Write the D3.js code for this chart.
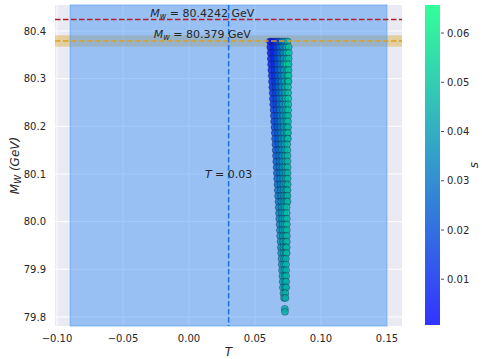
<!DOCTYPE html>
<html>
<head>
<meta charset="utf-8">
<script src="https://cdn.jsdelivr.net/npm/d3@7"></script>
<style>
  body { margin: 0; background: #fff; }
  svg { display: block; font-family: "DejaVu Sans", sans-serif; }
</style>
</head>
<body>
<div id="chart"></div>
<script>
const width = 482;
const height = 359;

// axis ticks
const xTicks = [-0.1, -0.05, 0.0, 0.05, 0.1, 0.15];
const yTicks = [79.8, 79.9, 80.0, 80.1, 80.2, 80.3, 80.4];
const sTicks = [0.01, 0.02, 0.03, 0.04, 0.05, 0.06];

// reference lines / regions
const mwLines = [80.4242, 80.379];
const mwBand = [80.367, 80.391];
const tLine = 0.03;
const tSpan = [-0.09, 0.15];

// scan points, one row per M_W value
const rowMw = [
  80.378, 80.366, 80.354, 80.342, 80.330, 80.318, 80.306, 80.294, 80.282, 80.270,
  80.258, 80.246, 80.234, 80.222, 80.210, 80.198, 80.186, 80.174, 80.162, 80.150,
  80.138, 80.126, 80.114, 80.102, 80.090, 80.078, 80.066, 80.054, 80.042, 80.030,
  80.018, 80.006, 79.994, 79.982, 79.970, 79.958, 79.946, 79.934, 79.922, 79.910,
  79.898, 79.886, 79.874, 79.862, 79.850, 79.840, 79.817, 79.811
];
const rowT = [
  [0.0614, 0.0636, 0.0658, 0.0680, 0.0702, 0.0724, 0.0746],
  [0.0616, 0.0640, 0.0664, 0.0688, 0.0712, 0.0736, 0.0755],
  [0.0618, 0.0642, 0.0666, 0.0690, 0.0714, 0.0738, 0.0756],
  [0.0620, 0.0644, 0.0668, 0.0692, 0.0716, 0.0740, 0.0755],
  [0.0622, 0.0646, 0.0670, 0.0694, 0.0718, 0.0742, 0.0755],
  [0.0624, 0.0648, 0.0672, 0.0696, 0.0720, 0.0744, 0.0754],
  [0.0627, 0.0650, 0.0674, 0.0698, 0.0722, 0.0746, 0.0754],
  [0.0629, 0.0652, 0.0676, 0.0700, 0.0724, 0.0747, 0.0754],
  [0.0631, 0.0655, 0.0679, 0.0703, 0.0727, 0.0750],
  [0.0634, 0.0657, 0.0681, 0.0705, 0.0729, 0.0751],
  [0.0636, 0.0660, 0.0684, 0.0708, 0.0731, 0.0752],
  [0.0638, 0.0662, 0.0686, 0.0710, 0.0733, 0.0752],
  [0.0641, 0.0664, 0.0688, 0.0712, 0.0735, 0.0751],
  [0.0643, 0.0667, 0.0691, 0.0714, 0.0737, 0.0751],
  [0.0645, 0.0669, 0.0693, 0.0716, 0.0738, 0.0750],
  [0.0648, 0.0671, 0.0695, 0.0718, 0.0740, 0.0750],
  [0.0650, 0.0674, 0.0697, 0.0720, 0.0741, 0.0750],
  [0.0652, 0.0676, 0.0699, 0.0722, 0.0743, 0.0749],
  [0.0655, 0.0678, 0.0701, 0.0724, 0.0744],
  [0.0657, 0.0680, 0.0703, 0.0726, 0.0745],
  [0.0659, 0.0682, 0.0705, 0.0727, 0.0746],
  [0.0661, 0.0684, 0.0707, 0.0729, 0.0746],
  [0.0664, 0.0686, 0.0709, 0.0730, 0.0747],
  [0.0666, 0.0689, 0.0711, 0.0732, 0.0747],
  [0.0668, 0.0691, 0.0713, 0.0733, 0.0747],
  [0.0671, 0.0693, 0.0715, 0.0735, 0.0747],
  [0.0673, 0.0695, 0.0717, 0.0736, 0.0746],
  [0.0675, 0.0697, 0.0719, 0.0737, 0.0746],
  [0.0678, 0.0699, 0.0720, 0.0738, 0.0746],
  [0.0680, 0.0701, 0.0722, 0.0739],
  [0.0682, 0.0703, 0.0724, 0.0740],
  [0.0684, 0.0705, 0.0725, 0.0741],
  [0.0687, 0.0707, 0.0727, 0.0741],
  [0.0689, 0.0709, 0.0728, 0.0741],
  [0.0691, 0.0711, 0.0729, 0.0741],
  [0.0694, 0.0713, 0.0731, 0.0741],
  [0.0696, 0.0715, 0.0732, 0.0740],
  [0.0698, 0.0717, 0.0733, 0.0740],
  [0.0701, 0.0719, 0.0734],
  [0.0703, 0.0720, 0.0735],
  [0.0705, 0.0722, 0.0736],
  [0.0708, 0.0724, 0.0736],
  [0.0710, 0.0726, 0.0736],
  [0.0712, 0.0727, 0.0736],
  [0.0716, 0.0730],
  [0.0720, 0.0731],
  [0.0726],
  [0.0727]
];
const rowS = [
  [0.0007, 0.005, 0.012, 0.020, 0.029, 0.038, 0.046],
  [0.003, 0.008, 0.016, 0.025, 0.034, 0.043, 0.050],
  [0.004, 0.010, 0.018, 0.027, 0.036, 0.045, 0.051],
  [0.005, 0.011, 0.020, 0.029, 0.038, 0.046, 0.050],
  [0.006, 0.012, 0.021, 0.030, 0.039, 0.0657, 0.049],
  [0.007, 0.013, 0.022, 0.031, 0.040, 0.047, 0.050],
  [0.008, 0.014, 0.023, 0.032, 0.041, 0.048, 0.052],
  [0.009, 0.015, 0.024, 0.033, 0.042, 0.048, 0.050],
  [0.010, 0.017, 0.026, 0.035, 0.043, 0.050],
  [0.011, 0.018, 0.027, 0.036, 0.044, 0.049],
  [0.012, 0.019, 0.028, 0.037, 0.045, 0.051],
  [0.013, 0.020, 0.029, 0.038, 0.045, 0.049],
  [0.014, 0.021, 0.030, 0.038, 0.046, 0.050],
  [0.015, 0.022, 0.031, 0.039, 0.046, 0.048],
  [0.016, 0.023, 0.032, 0.040, 0.046, 0.050],
  [0.017, 0.024, 0.032, 0.040, 0.047, 0.048],
  [0.018, 0.025, 0.033, 0.041, 0.047, 0.049],
  [0.019, 0.026, 0.034, 0.041, 0.047, 0.048],
  [0.020, 0.027, 0.035, 0.042, 0.047],
  [0.021, 0.028, 0.035, 0.042, 0.048],
  [0.022, 0.029, 0.036, 0.043, 0.048],
  [0.023, 0.030, 0.037, 0.043, 0.047],
  [0.024, 0.031, 0.037, 0.044, 0.048],
  [0.025, 0.032, 0.038, 0.044, 0.047],
  [0.026, 0.033, 0.039, 0.044, 0.048],
  [0.027, 0.033, 0.039, 0.045, 0.046],
  [0.028, 0.034, 0.040, 0.045, 0.047],
  [0.029, 0.035, 0.040, 0.045, 0.046],
  [0.030, 0.036, 0.041, 0.045, 0.047],
  [0.032, 0.038, 0.043, 0.049],
  [0.033, 0.038, 0.044, 0.049],
  [0.034, 0.039, 0.044, 0.048],
  [0.035, 0.040, 0.045, 0.049],
  [0.036, 0.040, 0.045, 0.048],
  [0.037, 0.041, 0.045, 0.048],
  [0.038, 0.042, 0.046, 0.048],
  [0.038, 0.042, 0.046, 0.047],
  [0.039, 0.043, 0.046, 0.048],
  [0.040, 0.043, 0.046],
  [0.040, 0.044, 0.047],
  [0.041, 0.044, 0.046],
  [0.042, 0.045, 0.047],
  [0.042, 0.045, 0.046],
  [0.043, 0.045, 0.046],
  [0.044, 0.046],
  [0.044, 0.045],
  [0.045],
  [0.046]
];

// flatten rows into points
const points = [];
rowMw.forEach((mw, i) => {
  rowT[i].forEach((t, j) => {
    points.push({ t: t, mw: mw, s: rowS[i][j] });
  });
});

const plot = { left: 55, right: 402, top: 5, bottom: 326 };
const cbar = { left: 425, right: 440, top: 5, bottom: 325 };

const svg = d3
  .select("#chart")
  .append("svg")
  .attr("width", width)
  .attr("height", height);

const x = d3.scaleLinear().domain([-0.10152, 0.16136]).range([plot.left, plot.right]);
const y = d3.scaleLinear().domain([79.7811, 80.4545]).range([plot.bottom, plot.top]);

const sExtent = d3.extent(points, (d) => d.s);
const cy = d3.scaleLinear().domain(sExtent).range([cbar.bottom, cbar.top]);
const winter = d3.interpolateRgb("#0000ff", "#00ff80");
const color = (s) => winter((s - sExtent[0]) / (sExtent[1] - sExtent[0]));

// background
svg
  .append("rect")
  .attr("x", plot.left)
  .attr("y", plot.top)
  .attr("width", plot.right - plot.left)
  .attr("height", plot.bottom - plot.top)
  .attr("fill", "#eaeaf2");

// grid
svg
  .append("g")
  .selectAll("line")
  .data(xTicks)
  .join("line")
  .attr("x1", (d) => x(d))
  .attr("x2", (d) => x(d))
  .attr("y1", plot.top)
  .attr("y2", plot.bottom)
  .attr("stroke", "#fff")
  .attr("stroke-width", 1);

svg
  .append("g")
  .selectAll("line")
  .data(yTicks)
  .join("line")
  .attr("x1", plot.left)
  .attr("x2", plot.right)
  .attr("y1", (d) => y(d))
  .attr("y2", (d) => y(d))
  .attr("stroke", "#fff")
  .attr("stroke-width", 1);

// M_W band
svg
  .append("rect")
  .attr("x", plot.left)
  .attr("width", plot.right - plot.left)
  .attr("y", y(mwBand[1]))
  .attr("height", y(mwBand[0]) - y(mwBand[1]))
  .attr("fill", "#daa520")
  .attr("fill-opacity", 0.4);

// T span
svg
  .append("rect")
  .attr("x", x(tSpan[0]))
  .attr("width", x(tSpan[1]) - x(tSpan[0]))
  .attr("y", plot.top)
  .attr("height", plot.bottom - plot.top)
  .attr("fill", "rgb(72,150,242)")
  .attr("fill-opacity", 0.5)
  .attr("stroke", "rgb(72,150,242)")
  .attr("stroke-opacity", 0.5)
  .attr("stroke-width", 1.2);

// scatter
svg
  .append("g")
  .selectAll("circle")
  .data(points)
  .join("circle")
  .attr("cx", (d) => x(d.t))
  .attr("cy", (d) => y(d.mw))
  .attr("r", 3.5)
  .attr("fill", (d) => color(d.s))
  .attr("fill-opacity", 0.8)
  .attr("stroke", "#1c2a48")
  .attr("stroke-opacity", 0.7)
  .attr("stroke-width", 0.6);

// dashed lines
svg
  .append("line")
  .attr("x1", plot.left)
  .attr("x2", plot.right)
  .attr("y1", y(mwLines[0]))
  .attr("y2", y(mwLines[0]))
  .attr("stroke", "#b41f2e")
  .attr("stroke-width", 1.5)
  .attr("stroke-dasharray", "5.5,2.5");

svg
  .append("line")
  .attr("x1", plot.left)
  .attr("x2", plot.right)
  .attr("y1", y(mwLines[1]))
  .attr("y2", y(mwLines[1]))
  .attr("stroke", "#dda020")
  .attr("stroke-width", 1.5)
  .attr("stroke-dasharray", "5.5,2.5");

svg
  .append("line")
  .attr("x1", x(tLine))
  .attr("x2", x(tLine))
  .attr("y1", plot.top)
  .attr("y2", plot.bottom)
  .attr("stroke", "#1a6ff0")
  .attr("stroke-width", 1.5)
  .attr("stroke-dasharray", "5.5,2.5");

// annotations
function mwLabel(value) {
  const t = svg
    .append("text")
    .attr("x", x(0.01))
    .attr("y", y(value) - 2.5)
    .attr("text-anchor", "middle")
    .style("font-size", "11px")
    .attr("fill", "#262626");
  t.append("tspan").style("font-style", "italic").text("M");
  t.append("tspan").style("font-style", "italic").style("font-size", "8px").attr("dy", 2).text("w");
  t.append("tspan").attr("dy", -2).text(` = ${value} GeV`);
}
mwLines.forEach(mwLabel);

const tLabel = svg
  .append("text")
  .attr("x", x(tLine))
  .attr("y", y(80.1) + 4)
  .attr("text-anchor", "middle")
  .style("font-size", "11px")
  .attr("fill", "#262626");
tLabel.append("tspan").style("font-style", "italic").text("T");
tLabel.append("tspan").text(` = ${tLine}`);

// axes tick labels
svg
  .append("g")
  .selectAll("text")
  .data(xTicks)
  .join("text")
  .attr("x", (d) => x(d))
  .attr("y", 342)
  .attr("text-anchor", "middle")
  .style("font-size", "10px")
  .attr("fill", "#262626")
  .text((d) => d3.format(".2f")(d));

svg
  .append("g")
  .selectAll("text")
  .data(yTicks)
  .join("text")
  .attr("x", 46)
  .attr("y", (d) => y(d) + 3.6)
  .attr("text-anchor", "end")
  .style("font-size", "10px")
  .attr("fill", "#262626")
  .text((d) => d3.format(".1f")(d));

// axis labels
svg
  .append("text")
  .attr("x", (plot.left + plot.right) / 2)
  .attr("y", 356)
  .attr("text-anchor", "middle")
  .style("font-size", "12px")
  .style("font-style", "italic")
  .attr("fill", "#262626")
  .text("T");

const yLabel = svg
  .append("text")
  .attr("transform", `translate(19, ${(plot.top + plot.bottom) / 2}) rotate(-90)`)
  .attr("text-anchor", "middle")
  .style("font-size", "12px")
  .style("font-style", "italic")
  .attr("fill", "#262626");
yLabel.append("tspan").text("M");
yLabel.append("tspan").style("font-size", "9px").attr("dy", 2).text("W");
yLabel.append("tspan").attr("dy", -2).text(" (GeV)");

// colorbar
const grad = svg
  .append("defs")
  .append("linearGradient")
  .attr("id", "cbar")
  .attr("x1", 0)
  .attr("y1", 1)
  .attr("x2", 0)
  .attr("y2", 0);
d3.range(0, 1.0001, 0.1).forEach((f) => {
  grad
    .append("stop")
    .attr("offset", f)
    .attr("stop-color", winter(f))
    .attr("stop-opacity", 0.8);
});

svg
  .append("rect")
  .attr("x", cbar.left)
  .attr("y", cbar.top)
  .attr("width", cbar.right - cbar.left)
  .attr("height", cbar.bottom - cbar.top)
  .attr("fill", "url(#cbar)");

const cbAxis = svg.append("g");
cbAxis
  .selectAll("line")
  .data(sTicks)
  .join("line")
  .attr("x1", cbar.right + 1)
  .attr("x2", cbar.right + 4)
  .attr("y1", (d) => cy(d))
  .attr("y2", (d) => cy(d))
  .attr("stroke", "#262626")
  .attr("stroke-width", 0.8);
cbAxis
  .selectAll("text")
  .data(sTicks)
  .join("text")
  .attr("x", cbar.right + 7)
  .attr("y", (d) => cy(d) + 3.6)
  .style("font-size", "10px")
  .attr("fill", "#262626")
  .text((d) => d3.format(".2f")(d));

svg
  .append("text")
  .attr("transform", `translate(478, ${(cbar.top + cbar.bottom) / 2}) rotate(-90)`)
  .attr("text-anchor", "middle")
  .style("font-size", "12px")
  .style("font-style", "italic")
  .attr("fill", "#262626")
  .text("s");
</script>
</body>
</html>
